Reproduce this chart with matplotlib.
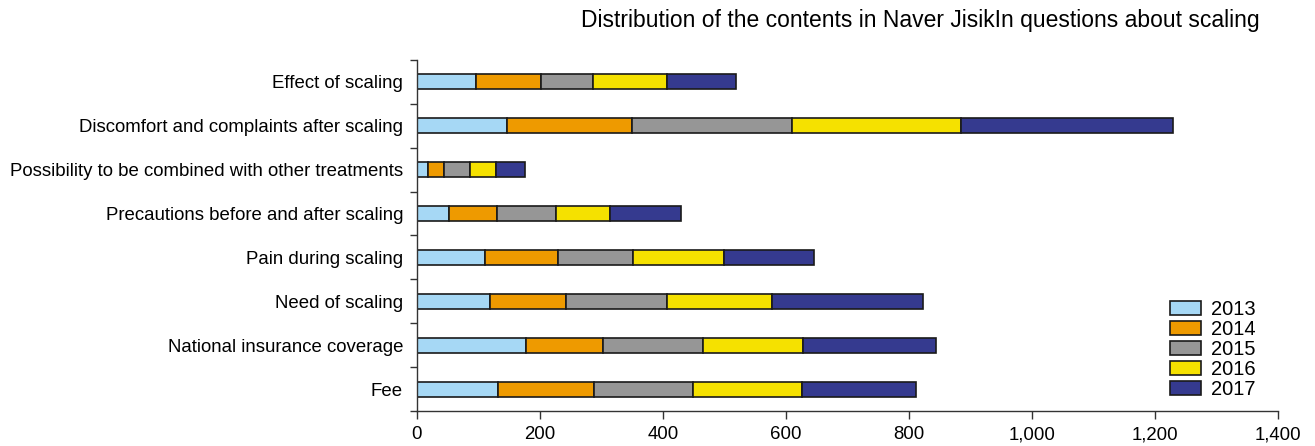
import matplotlib.pyplot as plt
import matplotlib.ticker as mticker
import numpy as np

plt.rcParams['font.family'] = ['Liberation Sans', 'DejaVu Sans']

# categories from bottom to top
categories = ['Fee', 'National insurance coverage', 'Need of scaling', 'Pain during scaling',
              'Precautions before and after scaling', 'Possibility to be combined with other treatments',
              'Discomfort and complaints after scaling', 'Effect of scaling']
years = ['2013', '2014', '2015', '2016', '2017']

v2013 = [131, 177, 119, 111, 52, 18, 146, 96]
v2014 = [157, 125, 124, 118, 78, 26, 204, 106]
v2015 = [160, 163, 163, 123, 96, 42, 260, 84]
v2016 = [178, 162, 172, 147, 88, 43, 275, 121]
v2017 = [185, 217, 245, 147, 115, 46, 345, 111]

colours = ['#A6D8F5', '#EE9A00', '#969696', '#F5E100', '#353A8F']

fig = plt.figure(figsize=(13.15, 4.46), dpi=100)
ax = fig.add_axes([0.3171, 0.0785, 0.6548, 0.787])

y = np.arange(len(categories))
left = np.zeros(len(categories))
for vals, col, yr in zip([v2013, v2014, v2015, v2016, v2017], colours, years):
    ax.barh(y, vals, left=left, height=0.34, color=col, edgecolor='#1a1a1a', linewidth=1.2, label=yr)
    left = left + np.array(vals)

ax.set_xlim(0, 1400)
ax.set_ylim(-0.5, len(categories) - 0.5)
ax.set_yticks(y)
ax.set_yticklabels(categories, fontsize=13.4)
ax.tick_params(axis='y', which='major', length=0, pad=10)
ax.set_yticks(np.arange(-0.5, len(categories), 1), minor=True)
ax.tick_params(axis='y', which='minor', length=5, width=1, color='#333333', direction='out')
ax.set_xticks(np.arange(0, 1401, 200))
ax.xaxis.set_major_formatter(mticker.FuncFormatter(lambda v, p: f'{int(v):,}'))
ax.tick_params(axis='x', length=6, width=1, color='#333333', labelsize=13.4, pad=5)

for s in ['top', 'right']:
    ax.spines[s].set_visible(False)
for s in ['left', 'bottom']:
    ax.spines[s].set_color('#333333')
    ax.spines[s].set_linewidth(1)

fig.text(0.700, 0.955, 'Distribution of the contents in Naver JisikIn questions about scaling',
         ha='center', va='center', fontsize=16.5)

ax.legend(loc='lower right', bbox_to_anchor=(0.99, -0.005), frameon=False, fontsize=14.5,
          handlelength=1.5, handleheight=0.7, labelspacing=0.05, handletextpad=0.5,
          borderaxespad=0.3)

fig.savefig('out.png', dpi=100)
